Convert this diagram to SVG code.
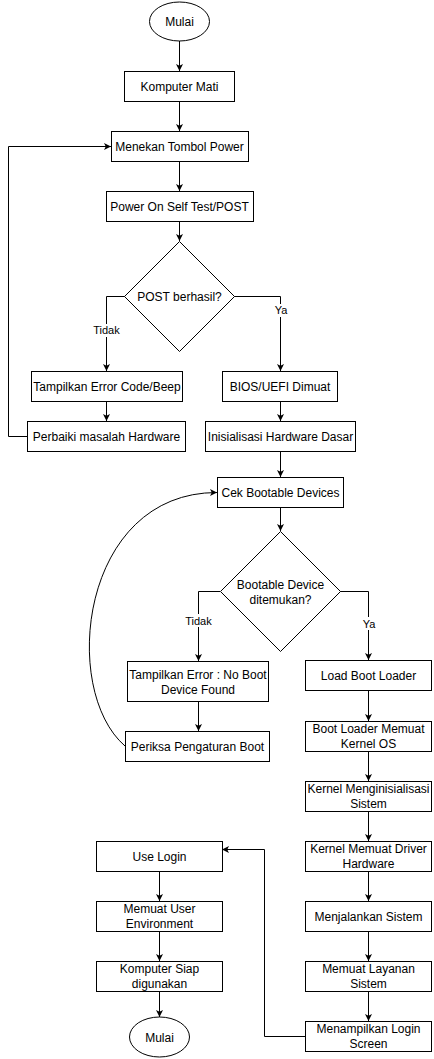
<svg xmlns="http://www.w3.org/2000/svg" width="434" height="1059" viewBox="0 0 434 1059">
<style>
.n{fill:#fff;stroke:#000;stroke-width:1}
.t{font-family:"Liberation Sans",Arial,sans-serif;font-size:12px;fill:#000;text-anchor:middle}
.l{font-family:"Liberation Sans",Arial,sans-serif;font-size:11px;fill:#000;text-anchor:middle}
.c{fill:none;stroke:#000;stroke-width:1}
.lb{fill:#fff}
</style>
<defs>
<marker id="a" viewBox="0 0 8 8" refX="8" refY="4" markerWidth="7" markerHeight="7" markerUnits="userSpaceOnUse" orient="auto">
<path d="M0,0 L8,4 L0,8 L2,4 Z" fill="#000"/>
</marker>
</defs>
<g id="connectors">
<path class="c" d="M179.5,41 V71" marker-end="url(#a)"/>
<path class="c" d="M179.5,101 V131" marker-end="url(#a)"/>
<path class="c" d="M179.5,161 V191" marker-end="url(#a)"/>
<path class="c" d="M179.5,221 V241" marker-end="url(#a)"/>
<path class="c" d="M125,296.5 H106.5 V371" marker-end="url(#a)"/>
<path class="c" d="M234,296.5 H280.5 V371" marker-end="url(#a)"/>
<path class="c" d="M106.5,401 V421" marker-end="url(#a)"/>
<path class="c" d="M280.5,401 V421" marker-end="url(#a)"/>
<path class="c" d="M27,436.5 H8.5 V146.5 H111" marker-end="url(#a)"/>
<path class="c" d="M280.5,451 V477" marker-end="url(#a)"/>
<path class="c" d="M280.5,507 V531" marker-end="url(#a)"/>
<path class="c" d="M220,591.5 H198.5 V661" marker-end="url(#a)"/>
<path class="c" d="M340,591.5 H368.5 V660" marker-end="url(#a)"/>
<path class="c" d="M198.5,701 V731" marker-end="url(#a)"/>
<path class="c" d="M125,746 C60,690 80,492.5 217,492.5" marker-end="url(#a)"/>
<path class="c" d="M368.5,690 V721" marker-end="url(#a)"/>
<path class="c" d="M368.5,751 V781" marker-end="url(#a)"/>
<path class="c" d="M368.5,811 V841" marker-end="url(#a)"/>
<path class="c" d="M368.5,871 V901" marker-end="url(#a)"/>
<path class="c" d="M368.5,931 V961" marker-end="url(#a)"/>
<path class="c" d="M368.5,991 V1021" marker-end="url(#a)"/>
<path class="c" d="M305,1036.5 H264.5 V849.5 H222" marker-end="url(#a)"/>
<path class="c" d="M159.5,871 V901" marker-end="url(#a)"/>
<path class="c" d="M159.5,931 V961" marker-end="url(#a)"/>
<path class="c" d="M159.5,991 V1017" marker-end="url(#a)"/>
<rect class="lb" x="92" y="324" width="29" height="13"/>
<text class="l" x="106.5" y="334">Tidak</text>
<rect class="lb" x="273" y="304" width="15" height="13"/>
<text class="l" x="281" y="314">Ya</text>
<rect class="lb" x="184" y="614" width="29" height="13"/>
<text class="l" x="198.5" y="625">Tidak</text>
<rect class="lb" x="361" y="617" width="15" height="13"/>
<text class="l" x="369" y="628">Ya</text>
</g>
<g id="start"><ellipse class="n" cx="179.5" cy="21.5" rx="30" ry="19.5"/><text class="t" x="179.5" y="26">Mulai</text></g>
<g id="komputer-mati"><rect class="n" x="124.5" y="71.5" width="110" height="30"/><text class="t" x="179.5" y="90.5">Komputer Mati</text></g>
<g id="menekan"><rect class="n" x="111.5" y="131.5" width="137" height="30"/><text class="t" x="179.5" y="150.5">Menekan Tombol Power</text></g>
<g id="post"><rect class="n" x="106.5" y="191.5" width="147" height="30"/><text class="t" x="179.5" y="210.5">Power On Self Test/POST</text></g>
<g id="post-decision"><path class="n" d="M179.5,241.5 L234.5,296.5 L179.5,351.5 L124.5,296.5 Z"/><text class="t" x="179.5" y="300.5">POST berhasil?</text></g>
<g id="error-beep"><rect class="n" x="31.5" y="371.5" width="151" height="30"/><text class="t" x="107" y="390.5">Tampilkan Error Code/Beep</text></g>
<g id="bios"><rect class="n" x="222.5" y="371.5" width="115" height="30"/><text class="t" x="280" y="390.5">BIOS/UEFI Dimuat</text></g>
<g id="perbaiki"><rect class="n" x="27.5" y="421.5" width="158" height="30"/><text class="t" x="106.5" y="440.5">Perbaiki masalah Hardware</text></g>
<g id="inisialisasi"><rect class="n" x="205.5" y="421.5" width="150" height="30"/><text class="t" x="280.5" y="440.5">Inisialisasi Hardware Dasar</text></g>
<g id="cek"><rect class="n" x="217.5" y="477.5" width="126" height="30"/><text class="t" x="280.5" y="496.5">Cek Bootable Devices</text></g>
<g id="boot-decision"><path class="n" d="M280.5,531.5 L340.5,591.5 L280.5,651.5 L220.5,591.5 Z"/><text class="t" x="280.5" y="588.5">Bootable Device</text><text class="t" x="280.5" y="603.5">ditemukan?</text></g>
<g id="no-boot"><rect class="n" x="127.5" y="661.5" width="141" height="40"/><text class="t" x="198" y="678.5">Tampilkan Error : No Boot</text><text class="t" x="198" y="693.5">Device Found</text></g>
<g id="periksa"><rect class="n" x="125.5" y="731.5" width="144" height="30"/><text class="t" x="197.5" y="750.5">Periksa Pengaturan Boot</text></g>
<g id="load-boot"><rect class="n" x="305.5" y="660.5" width="126" height="30"/><text class="t" x="368.5" y="679.5">Load Boot Loader</text></g>
<g id="boot-loader-kernel"><rect class="n" x="305.5" y="721.5" width="126" height="30"/><text class="t" x="368.5" y="733">Boot Loader Memuat</text><text class="t" x="368.5" y="748">Kernel OS</text></g>
<g id="kernel-init"><rect class="n" x="305.5" y="781.5" width="126" height="30"/><text class="t" x="368.5" y="793">Kernel Menginisialisasi</text><text class="t" x="368.5" y="808">Sistem</text></g>
<g id="kernel-driver"><rect class="n" x="305.5" y="841.5" width="126" height="30"/><text class="t" x="368.5" y="853">Kernel Memuat Driver</text><text class="t" x="368.5" y="868">Hardware</text></g>
<g id="menjalankan"><rect class="n" x="305.5" y="901.5" width="126" height="30"/><text class="t" x="368.5" y="920.5">Menjalankan Sistem</text></g>
<g id="layanan"><rect class="n" x="305.5" y="961.5" width="126" height="30"/><text class="t" x="368.5" y="973">Memuat Layanan</text><text class="t" x="368.5" y="988">Sistem</text></g>
<g id="login-screen"><rect class="n" x="305.5" y="1021.5" width="126" height="30"/><text class="t" x="368.5" y="1033">Menampilkan Login</text><text class="t" x="368.5" y="1048">Screen</text></g>
<g id="use-login"><rect class="n" x="96.5" y="841.5" width="126" height="30"/><text class="t" x="159.5" y="860.5">Use Login</text></g>
<g id="user-env"><rect class="n" x="96.5" y="901.5" width="126" height="30"/><text class="t" x="159.5" y="913">Memuat User</text><text class="t" x="159.5" y="928">Environment</text></g>
<g id="siap"><rect class="n" x="96.5" y="961.5" width="126" height="30"/><text class="t" x="159.5" y="973">Komputer Siap</text><text class="t" x="159.5" y="988">digunakan</text></g>
<g id="end"><ellipse class="n" cx="159.5" cy="1037" rx="30" ry="20"/><text class="t" x="159.5" y="1041.5">Mulai</text></g>
</svg>
